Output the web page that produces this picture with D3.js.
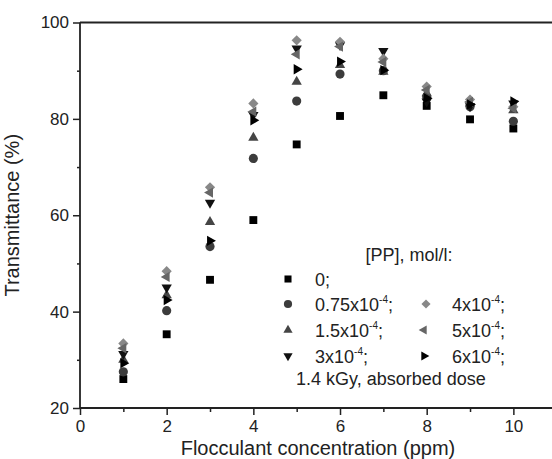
<!DOCTYPE html>
<html>
<head>
<meta charset="utf-8">
<script src="https://cdn.jsdelivr.net/npm/d3@7"></script>
<style>
  body { margin: 0; background: #fff; }
  svg { display: block; font-family: "Liberation Sans", Arial, sans-serif; }
</style>
</head>
<body>
<svg id="chart" width="552" height="459"></svg>
<script>
// flocculant concentration (ppm)
const concentrations = [1, 2, 3, 4, 5, 6, 7, 8, 9, 10];

// transmittance (%) for each [PP] concentration
const pp0    = [26.0, 35.3, 46.6, 59.0, 74.7, 80.6, 84.9, 82.7, 79.9, 78.0];
const pp075  = [27.5, 40.2, 53.5, 71.8, 83.7, 89.3, 90.0, 84.6, 82.5, 79.5];
const pp15   = [30.0, 43.4, 58.6, 76.1, 87.7, 91.2, 89.8, 85.3, 83.2, 81.8];
const pp3    = [31.2, 45.0, 62.6, 80.8, 94.6, 95.3, 94.1, 83.6, 82.6, 83.2];
const pp4    = [33.4, 48.4, 65.8, 83.2, 96.3, 96.0, 92.5, 86.7, 84.0, 82.5];
const pp5    = [32.4, 47.2, 64.7, 81.5, 93.4, 95.0, 91.8, 86.0, 83.5, 82.2];
const pp6    = [29.3, 42.4, 54.7, 79.7, 90.3, 91.9, 90.1, 84.3, 83.0, 83.6];

const labelBase = ["0;", "0.75x10", "1.5x10", "3x10", "4x10", "5x10", "6x10"];
const labelExp  = ["",   "-4",      "-4",     "-4",   "-4",   "-4",   "-4"];

const xTicks = [0, 2, 4, 6, 8, 10];
const yTicks = [20, 40, 60, 80, 100];

const seriesValues = [pp0, pp075, pp15, pp3, pp4, pp5, pp6];
// marker look per series: symbol, size, rotation, fill
const markers = [
    { type: d3.symbolSquare,   size: 62, rot: 0,   fill: "#000" },
    { type: d3.symbolCircle,   size: 66, rot: 0,   fill: "#3c3c3c" },
    { type: d3.symbolTriangle, size: 46, rot: 0,   fill: "#454545" },
    { type: d3.symbolTriangle, size: 46, rot: 180, fill: "#111" },
    { type: d3.symbolSquare,   size: 52, rot: 45,  fill: "#888" },
    { type: d3.symbolTriangle, size: 46, rot: -90, fill: "#666" },
    { type: d3.symbolTriangle, size: 46, rot: 90,  fill: "#000" }
];

const svg = d3.select("#chart");

const x = d3.scaleLinear().domain([0, 11]).range([80, 556.7]);
const y = d3.scaleLinear().domain([20, 100]).range([408, 22.5]);

const axisColor = "#222";

// points
seriesValues.forEach((vals, i) => {
    const m = markers[i];
    svg.append("g")
        .selectAll("path")
        .data(vals.map((v, j) => [concentrations[j], v]))
        .enter().append("path")
        .attr("d", d3.symbol().type(m.type).size(m.size))
        .attr("fill", m.fill)
        .attr("transform", d => "translate(" + x(d[0]) + "," + y(d[1]) + ") rotate(" + m.rot + ")");
});

// x axis
const xAxis = svg.append("g")
    .attr("transform", "translate(0," + y(20) + ")")
    .call(d3.axisBottom(x).tickValues(xTicks).tickSize(7).tickPadding(5).tickFormat(d3.format("d")));
svg.append("g")
    .attr("transform", "translate(0," + y(20) + ")")
    .call(d3.axisBottom(x).tickValues([1, 3, 5, 7, 9]).tickSize(4).tickFormat(""))
    .select(".domain").remove();

// y axis
const yAxis = svg.append("g")
    .attr("transform", "translate(" + x(0) + ",0)")
    .call(d3.axisLeft(y).tickValues(yTicks).tickSize(7).tickPadding(4).tickFormat(d3.format("d")));
svg.append("g")
    .attr("transform", "translate(" + x(0) + ",0)")
    .call(d3.axisLeft(y).tickValues([30, 50, 70, 90]).tickSize(3).tickFormat(""))
    .select(".domain").remove();

svg.selectAll(".domain").attr("stroke", axisColor).attr("stroke-width", 1.8);
svg.selectAll(".tick line").attr("stroke", axisColor).attr("stroke-width", 1.5);
svg.selectAll(".tick text").attr("fill", axisColor).style("font-size", "17px")
    .style("font-family", "'Liberation Sans', Arial, sans-serif");
xAxis.select(".domain").attr("d", "M" + x(0) + ",0H552");
yAxis.select(".domain").attr("d", "M0," + y(20) + "V" + y(100));

// top frame line
svg.append("line")
    .attr("x1", x(0)).attr("x2", 552)
    .attr("y1", y(100)).attr("y2", y(100))
    .attr("stroke", axisColor).attr("stroke-width", 1.8);

// axis titles
svg.append("text")
    .attr("x", 318).attr("y", 455)
    .attr("text-anchor", "middle")
    .attr("fill", axisColor)
    .style("font-size", "20px")
    .text("Flocculant concentration (ppm)");

svg.append("text")
    .attr("transform", "translate(19," + y(60) + ") rotate(-90)")
    .attr("text-anchor", "middle")
    .attr("fill", axisColor)
    .style("font-size", "20px")
    .text("Transmittance (%)");

// legend
const legend = svg.append("g").attr("fill", axisColor).style("font-size", "18px");
legend.append("text")
    .attr("x", 409).attr("y", 261)
    .attr("text-anchor", "middle")
    .text("[PP], mol/l:");

const legendPos = [
    [288, 279], [288, 304], [288, 330], [288, 356],
    [426, 304], [424, 330], [424, 356]
];
legendPos.forEach((p, i) => {
    const m = markers[i];
    const tx = i < 4 ? 315 : 452;
    legend.append("path")
        .attr("d", d3.symbol().type(m.type).size(m.size * 0.8))
        .attr("fill", m.fill)
        .attr("transform", "translate(" + p[0] + "," + p[1] + ") rotate(" + m.rot + ")");
    const t = legend.append("text")
        .attr("x", tx).attr("y", p[1] + 7);
    t.append("tspan").text(labelBase[i]);
    if (labelExp[i]) {
        t.append("tspan").attr("dy", -8).style("font-size", "10px").text(labelExp[i]);
        t.append("tspan").attr("dy", 8).text(";");
    }
});
legend.append("text")
    .attr("x", 296).attr("y", 385)
    .text("1.4 kGy, absorbed dose");
</script>
</body>
</html>
